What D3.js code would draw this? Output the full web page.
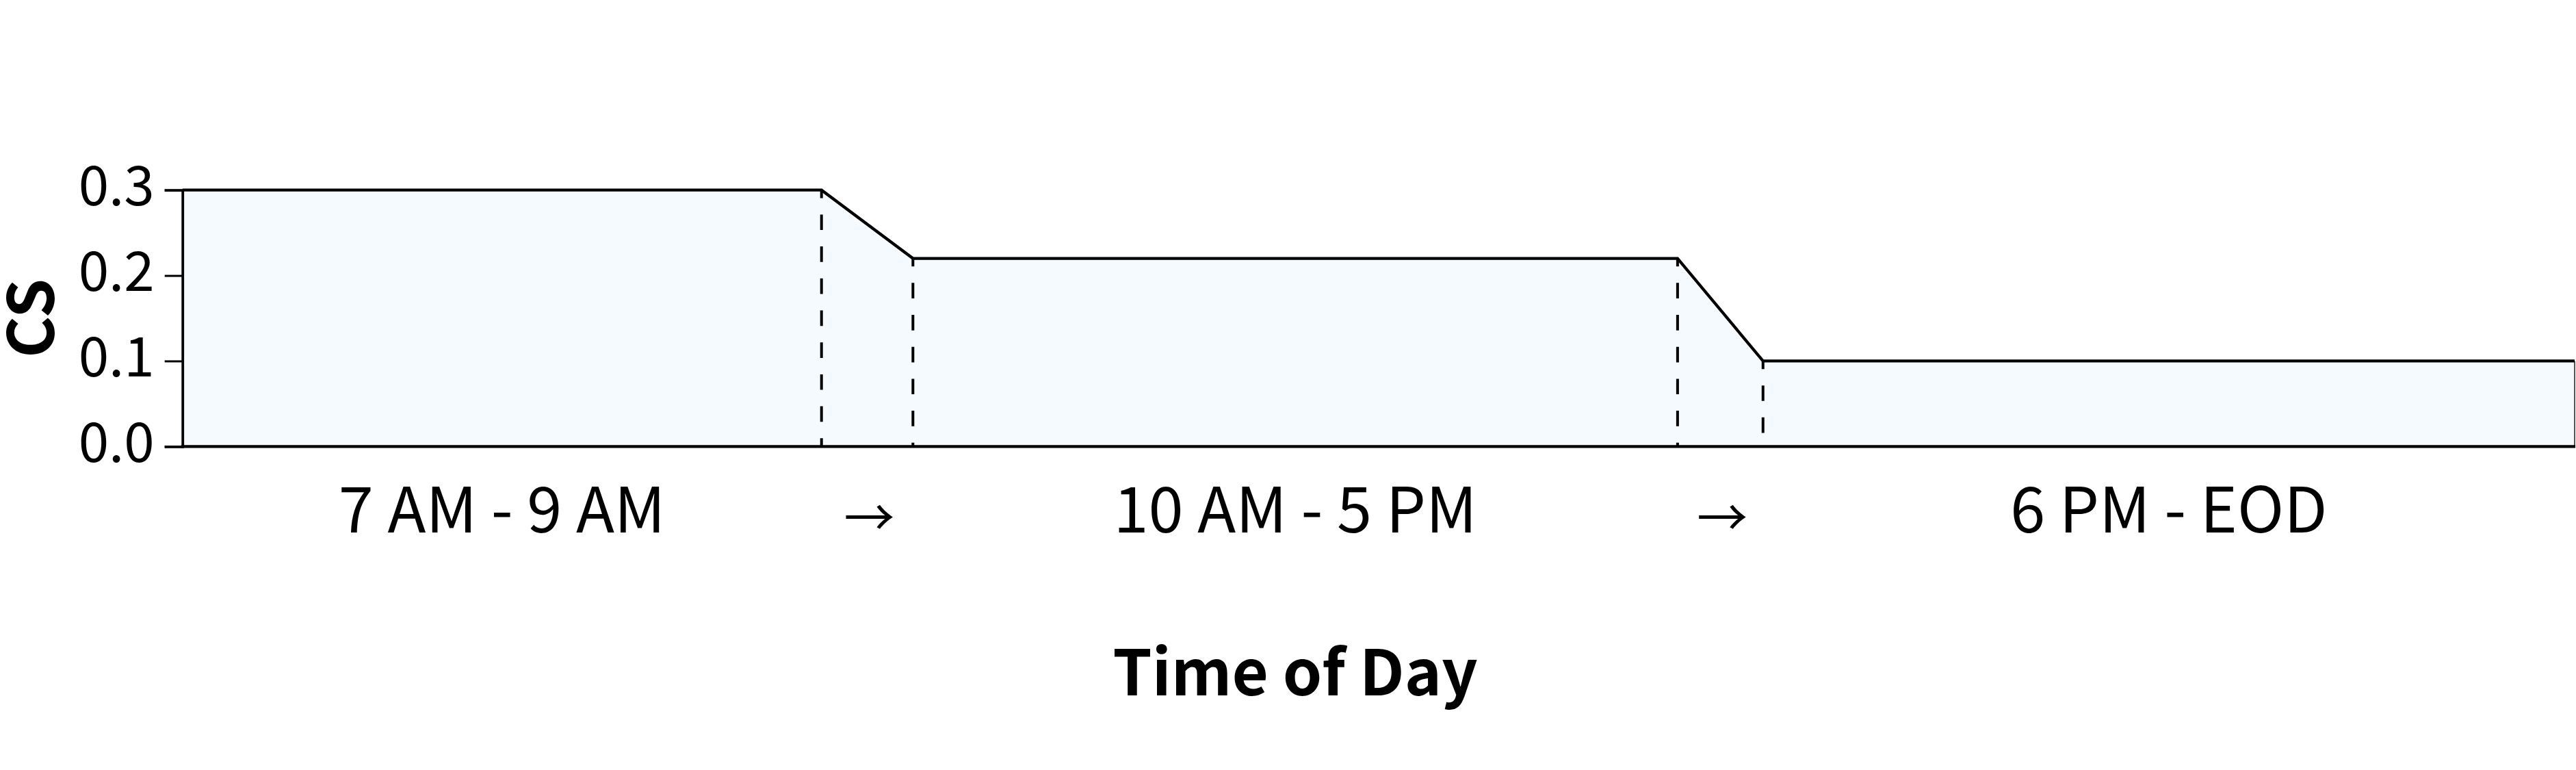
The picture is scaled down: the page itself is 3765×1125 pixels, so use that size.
<!DOCTYPE html>
<html>
<head>
<meta charset="utf-8">
<script src="https://cdn.jsdelivr.net/npm/d3@7"></script>
<style>
  html, body { margin: 0; padding: 0; background: #ffffff; }
  svg { display: block; }
  text { font-family: "Noto Sans CJK JP", "Noto Sans", sans-serif; fill: #000; }
</style>
</head>
<body>
<svg id="chart" width="3765" height="1125"></svg>
<script>
// ---- data ----
const timePoints = [0, 7.48, 8.55, 17.5, 18.5, 28];          // x positions of the profile breakpoints
const csValues   = [0.30, 0.30, 0.22, 0.22, 0.10, 0.10];     // CS value at each breakpoint
const periodLabels = ["7 AM - 9 AM", "10 AM - 5 PM", "6 PM - EOD"];
const transitionLabel = "→";
const yTickValues = [0.0, 0.1, 0.2, 0.3];
const xTitle = "Time of Day";
const yTitle = "CS";

(function () {
// ---- layout ----
const plotLeft = 266.7, plotRight = 3763, plotTop = 277.7, plotBottom = 652.3;

const svg = d3.select("#chart");
const x = d3.scaleLinear().domain([timePoints[0], timePoints[timePoints.length - 1]]).range([plotLeft, plotRight]);
const y = d3.scaleLinear().domain([0, 0.3]).range([plotBottom, plotTop]);

const pts = timePoints.map((t, i) => ({ t, v: csValues[i] }));

// filled area
const area = d3.area().x(d => x(d.t)).y0(y(0)).y1(d => y(d.v));
svg.append("path").datum(pts).attr("d", area).attr("fill", "#f5fafe").attr("stroke", "none");

// right edge of fill
const last = pts[pts.length - 1];
svg.append("line")
  .attr("x1", x(last.t)).attr("x2", x(last.t))
  .attr("y1", y(last.v)).attr("y2", y(0))
  .attr("stroke", "#555").attr("stroke-width", 2);

// dashed vertical lines at transition points (interior breakpoints)
const inner = pts.slice(1, pts.length - 1);
svg.selectAll("line.vdash").data(inner).join("line")
  .attr("class", "vdash")
  .attr("x1", d => x(d.t)).attr("x2", d => x(d.t))
  .attr("y1", d => y(d.v)).attr("y2", y(0))
  .attr("stroke", "#000").attr("stroke-width", 4)
  .attr("stroke-dasharray", "22.7,24")
  .attr("stroke-dashoffset", 11);

// profile line
const line = d3.line().x(d => x(d.t)).y(d => y(d.v));
svg.append("path").datum(pts).attr("d", line)
  .attr("fill", "none").attr("stroke", "#000").attr("stroke-width", 4.3)
  .attr("stroke-linejoin", "miter");

// y axis
const yAxis = d3.axisLeft(y).tickValues(yTickValues).tickFormat(d3.format(".1f")).tickSizeOuter(0).tickSize(26).tickPadding(15);
const gy = svg.append("g").attr("transform", `translate(${plotLeft},0)`).call(yAxis);
gy.attr("font-family", null).attr("font-size", null);
gy.select(".domain").attr("stroke", "#000").attr("stroke-width", 3.8);
gy.selectAll(".tick line").attr("stroke", "#000").attr("stroke-width", 3);
gy.selectAll(".tick text")
  .attr("font-size", 80)
  .attr("fill", "#000")
  .attr("dy", null)
  .attr("y", 22);

// bottom spine
svg.append("line")
  .attr("x1", plotLeft - 1.9).attr("x2", plotRight + 1)
  .attr("y1", y(0)).attr("y2", y(0))
  .attr("stroke", "#000").attr("stroke-width", 4.2);

// period labels at segment midpoints (segments are pairs of equal-valued breakpoints)
const segments = [];
for (let i = 0; i < pts.length; i += 2) segments.push((pts[i].t + pts[i + 1].t) / 2);
svg.selectAll("text.period").data(periodLabels).join("text")
  .attr("class", "period")
  .attr("x", (d, i) => x(segments[i]))
  .attr("y", 778)
  .attr("text-anchor", "middle")
  .attr("font-size", 92)
  .text(d => d);

// transition arrows
const trans = [];
for (let i = 1; i < pts.length - 1; i += 2) trans.push((pts[i].t + pts[i + 1].t) / 2);
svg.selectAll("text.arrow").data(trans).join("text")
  .attr("class", "arrow")
  .attr("x", d => x(d) + 3)
  .attr("y", 783)
  .attr("text-anchor", "middle")
  .attr("font-size", 74)
  .text(transitionLabel);

// axis titles
svg.append("text")
  .attr("x", x(segments[1]))
  .attr("y", 1016)
  .attr("text-anchor", "middle")
  .attr("font-size", 92)
  .attr("font-weight", "bold")
  .text(xTitle);

svg.append("text")
  .attr("transform", `translate(79,${(plotTop + plotBottom) / 2}) rotate(-90)`)
  .attr("text-anchor", "middle")
  .attr("font-size", 93)
  .attr("font-weight", "bold")
  .text(yTitle);
})();
</script>
</body>
</html>
